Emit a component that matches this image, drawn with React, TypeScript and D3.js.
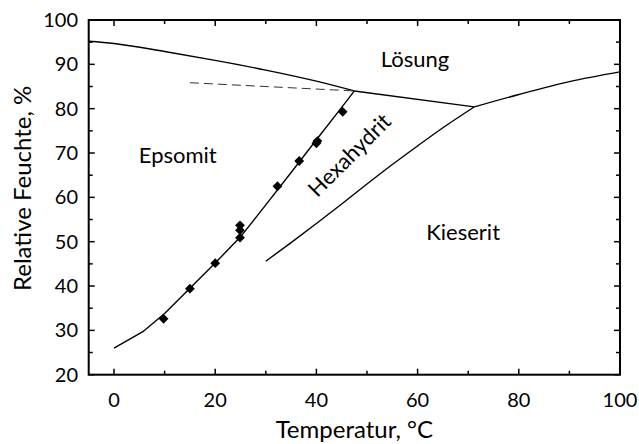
import React from "react";
import * as d3 from "d3";

// Phasengrenzen (Temperatur °C / relative Feuchte %)
const epsLoesT = [-5, 0, 10, 20, 30, 40, 47.5];
const epsLoesRH = [95.2, 94.7, 92.9, 90.9, 88.7, 86.2, 84.0];

const hexLoesT = [47.5, 71.2];
const hexLoesRH = [84.0, 80.4];

const kieLoesT = [71.2, 80, 90, 100];
const kieLoesRH = [80.4, 83.2, 86.1, 88.3];

const epsHexT = [0, 5.7, 10, 15, 20, 25, 30, 35, 40, 45, 47.5];
const epsHexRH = [26.0, 29.7, 33.8, 39.5, 45.2, 51.1, 58.3, 65.6, 73.0, 80.3, 84.0];

const hexKieT = [30, 35, 40, 45, 50, 55, 60, 65, 71.2];
const hexKieRH = [45.6, 49.8, 54.1, 58.5, 63.0, 67.4, 71.6, 75.7, 80.4];

// metastabile Verlängerung (gestrichelt)
const dashT = [15, 47.5];
const dashRH = [85.85, 84.0];

// Messpunkte
const measT = [9.8, 15, 20, 24.9, 24.9, 24.9, 32.3, 36.6, 40, 40.2, 45.2];
const measRH = [32.6, 39.4, 45.15, 50.9, 52.6, 53.7, 62.5, 68.2, 72.2, 72.7, 79.3];

const xMajor = [0, 20, 40, 60, 80, 100];
const xMinor = [10, 30, 50, 70, 90];
const yMajor = [20, 30, 40, 50, 60, 70, 80, 90, 100];
const yMinor = [25, 35, 45, 55, 65, 75, 85, 95];

const phaseLabels = ["Lösung", "Epsomit", "Hexahydrit", "Kieserit"];
const labelT = [59.5, 12.6, 47.6, 69];
const labelRH = [89.5, 67.7, 68.3, 50.3];

const W = 639;
const H = 444;
const left = 88.7;
const right = 620;
const top = 20;
const bottom = 374.7;
const font = "Lato, 'Open Sans', sans-serif";

const x = d3.scaleLinear().domain([-5, 100]).range([left, right]);
const y = d3.scaleLinear().domain([20, 100]).range([bottom, top]);

const zip = (a: number[], b: number[]) => a.map((v, i) => [v, b[i]] as [number, number]);

const lin = d3.line<[number, number]>().x((d) => x(d[0])).y((d) => y(d[1]));
const smooth = d3
  .line<[number, number]>()
  .x((d) => x(d[0]))
  .y((d) => y(d[1]))
  .curve(d3.curveMonotoneX);

const diamond = d3.symbol().type(d3.symbolSquare).size(48)();

export default function App() {
  const boundaries = [
    smooth(zip(epsLoesT, epsLoesRH)),
    lin(zip(hexLoesT, hexLoesRH)),
    smooth(zip(kieLoesT, kieLoesRH)),
    lin(zip(epsHexT, epsHexRH)),
    smooth(zip(hexKieT, hexKieRH)),
  ];

  return (
    <svg
      width={W}
      height={H}
      style={{ position: "absolute", left: 0, top: 0, background: "#fff" }}
      fontFamily={font}
    >
      {/* Phasengrenzen */}
      {boundaries.map((d, i) => (
        <path key={i} d={d || ""} fill="none" stroke="#000" strokeWidth={1.4} />
      ))}
      <path
        d={lin(zip(dashT, dashRH)) || ""}
        fill="none"
        stroke="#333"
        strokeWidth={1}
        strokeDasharray="9,5"
      />

      {/* Messpunkte */}
      {measT.map((t, i) => (
        <path
          key={i}
          d={diamond || ""}
          transform={`translate(${x(t)},${y(measRH[i])}) rotate(45)`}
          fill="#000"
        />
      ))}

      {/* Beschriftung der Phasen */}
      {phaseLabels.map((s, i) => {
        const px = x(labelT[i]);
        const py = y(labelRH[i]);
        return (
          <text
            key={s}
            x={px}
            y={py}
            fontSize={22}
            textAnchor="middle"
            transform={s === "Hexahydrit" ? `rotate(-45,${px},${py})` : undefined}
          >
            {s}
          </text>
        );
      })}

      {/* Rahmen */}
      <rect
        x={left}
        y={top}
        width={right - left}
        height={bottom - top}
        fill="none"
        stroke="#000"
        strokeWidth={2}
      />

      {/* Ticks */}
      <g stroke="#000" strokeWidth={1.5}>
        {xMajor.map((t) => (
          <g key={"xM" + t}>
            <line x1={x(t)} x2={x(t)} y1={bottom} y2={bottom - 6} />
            <line x1={x(t)} x2={x(t)} y1={top} y2={top + 6} />
          </g>
        ))}
        {xMinor.map((t) => (
          <g key={"xm" + t}>
            <line x1={x(t)} x2={x(t)} y1={bottom} y2={bottom - 4} />
            <line x1={x(t)} x2={x(t)} y1={top} y2={top + 4} />
          </g>
        ))}
        {yMajor.map((t) => (
          <g key={"yM" + t}>
            <line x1={left} x2={left + 6} y1={y(t)} y2={y(t)} />
            <line x1={right} x2={right - 6} y1={y(t)} y2={y(t)} />
          </g>
        ))}
        {yMinor.map((t) => (
          <g key={"ym" + t}>
            <line x1={left} x2={left + 4} y1={y(t)} y2={y(t)} />
            <line x1={right} x2={right - 4} y1={y(t)} y2={y(t)} />
          </g>
        ))}
      </g>

      {/* Tick-Beschriftung */}
      <g fontSize={20} fill="#000">
        {xMajor.map((t) => (
          <text key={"xl" + t} x={x(t)} y={407} textAnchor="middle">
            {t}
          </text>
        ))}
        {yMajor.map((t) => (
          <text key={"yl" + t} x={78} y={y(t) + 7} textAnchor="end">
            {t}
          </text>
        ))}
      </g>

      {/* Achsentitel */}
      <text x={(left + right) / 2} y={438} fontSize={24} textAnchor="middle">
        Temperatur, °C
      </text>
      <text
        transform={`translate(31,${(top + bottom) / 2 - 9}) rotate(-90)`}
        fontSize={24}
        textAnchor="middle"
      >
        Relative Feuchte, %
      </text>
    </svg>
  );
}
